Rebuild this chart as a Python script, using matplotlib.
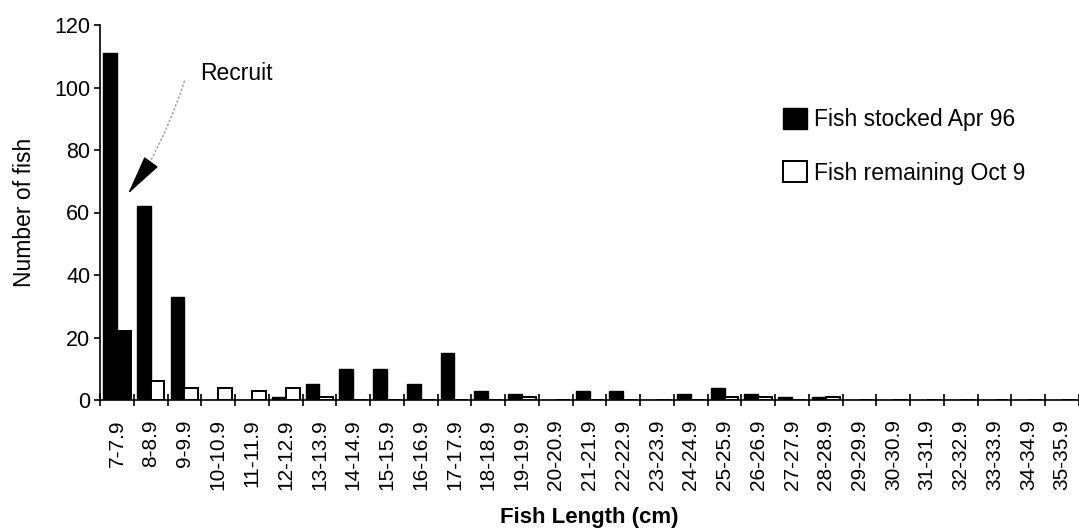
import matplotlib
matplotlib.use("Agg")
import matplotlib.pyplot as plt
import numpy as np
from matplotlib.patches import FancyArrowPatch, Patch

categories = [f"{a}-{a}.9" for a in range(7, 36)]
stocked_apr96 = [111, 62, 33, 0, 0, 1, 5, 10, 10, 5, 15, 3, 2, 0, 3, 3, 0, 2, 4, 2, 1, 1,
                 0, 0, 0, 0, 0, 0, 0]
remaining_oct = [22, 6, 4, 4, 3, 4, 1, 0, 0, 0, 0, 0, 1, 0, 0, 0, 0, 0, 1, 1, 0, 1,
                 0, 0, 0, 0, 0, 0, 0]
yticks = [0, 20, 40, 60, 80, 100, 120]

plt.rcParams['font.family'] = ['Liberation Sans', 'DejaVu Sans']

fig = plt.figure(figsize=(10.79, 5.28), dpi=100)
ax = fig.add_axes([100 / 1079, 1 - 400 / 528, 1 - 100 / 1079, 375 / 528])

x = np.arange(len(categories))
w = 0.41
ax.bar(x - w / 2, stocked_apr96, width=w, color='black', edgecolor='black', linewidth=1.0)
rem_colors = ['black'] + ['white'] * (len(categories) - 1)
ax.bar(x + w / 2, remaining_oct, width=w, color=rem_colors, edgecolor='black', linewidth=1.4)

ax.set_xlim(-0.5, len(categories) - 0.5)
ax.set_ylim(0, 120)
ax.set_yticks(yticks)
ax.set_xticks(x)
ax.set_xticklabels(categories, rotation=90, fontsize=15)
ax.set_xticks(np.arange(len(categories) + 1) - 0.5, minor=True)
ax.tick_params(axis='x', which='major', length=0, pad=14)
ax.tick_params(axis='x', which='minor', direction='inout', length=8, width=1.2)
ax.tick_params(axis='y', direction='out', length=4, width=1.2, labelsize=15.5, pad=3)

for s in ['top', 'right']:
    ax.spines[s].set_visible(False)
ax.spines['left'].set_linewidth(1.2)
ax.spines['bottom'].set_linewidth(1.2)

ax.set_ylabel('Number of fish', fontsize=16.5, labelpad=13)
ax.set_xlabel('Fish Length (cm)', fontsize=16, fontweight='bold', labelpad=12)

# annotation
ax.text(2.46, 104.5, 'Recruit', fontsize=16.5, va='center', ha='left')
dotted = FancyArrowPatch((2.0, 102), (0.87, 74), arrowstyle='-',
                         connectionstyle='arc3,rad=-0.05', linestyle=(0, (1, 2)),
                         color='#999999', lw=1.0, shrinkA=0, shrinkB=0)
ax.add_patch(dotted)
head = FancyArrowPatch((0.87, 74), (0.33, 66), arrowstyle='-|>,head_length=2.6,head_width=0.55',
                       mutation_scale=10, color='black', lw=0.8, shrinkA=0, shrinkB=0)
ax.add_patch(head)

handles = [Patch(facecolor='black', edgecolor='black', linewidth=1.0),
           Patch(facecolor='white', edgecolor='black', linewidth=1.4)]
fig.legend(handles, ['Fish stocked Apr 96', 'Fish remaining Oct 9'],
           loc='upper left', bbox_to_anchor=(783 / 1079, 1 - 108 / 528), frameon=False,
           fontsize=16.5, handlelength=1.05, handleheight=1.05, labelspacing=1.3,
           handletextpad=0.3, borderpad=0, borderaxespad=0)

fig.savefig('out.png', dpi=100)
